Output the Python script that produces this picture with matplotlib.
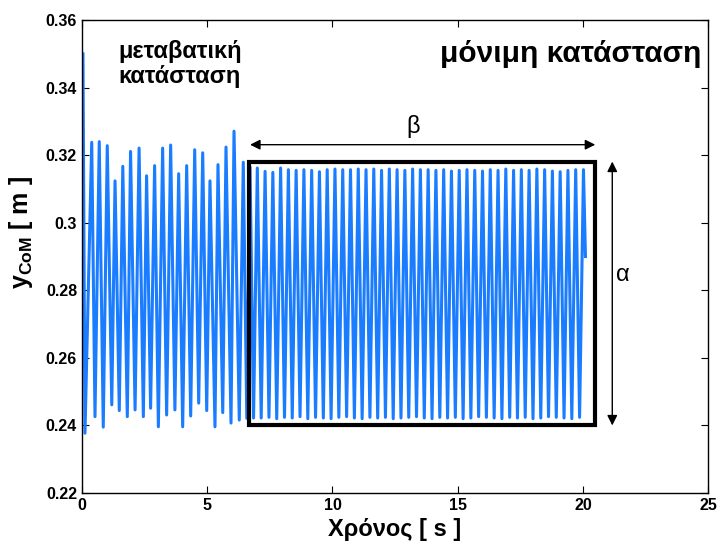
import matplotlib
matplotlib.use("Agg")
import matplotlib.pyplot as plt
from matplotlib.patches import Rectangle
from matplotlib import font_manager

plt.rcParams['font.family'] = ['Liberation Sans', 'DejaVu Sans']
names = {f.name for f in font_manager.fontManager.ttflist}
narrow = 'Liberation Sans Narrow' if 'Liberation Sans Narrow' in names else 'Liberation Sans'
plt.rcParams['mathtext.fontset'] = 'custom'
plt.rcParams['mathtext.bf'] = narrow + ':bold'
plt.rcParams['mathtext.rm'] = narrow

# Transient region: alternating extrema (time [s], y_CoM [m])
trans_t = [0.04, 0.12, 0.39, 0.52, 0.69, 0.85, 1.01, 1.19, 1.32, 1.49, 1.63, 1.81,
           1.94, 2.12, 2.28, 2.45, 2.58, 2.74, 2.90, 3.05, 3.22, 3.38, 3.54, 3.71,
           3.86, 4.02, 4.18, 4.34, 4.50, 4.66, 4.82, 4.98, 5.11, 5.31, 5.43, 5.62,
           5.75, 5.95, 6.07, 6.28, 6.44, 6.58, 6.71, 6.85]
trans_y = [0.3500, 0.2377, 0.3238, 0.2426, 0.3240, 0.2395, 0.3228, 0.2461, 0.3124, 0.2444,
           0.3167, 0.2426, 0.3211, 0.2446, 0.3221, 0.2426, 0.3139, 0.2451, 0.3169, 0.2396,
           0.3221, 0.2431, 0.3230, 0.2446, 0.3145, 0.2396, 0.3169, 0.2428, 0.3216, 0.2466,
           0.3207, 0.2444, 0.3124, 0.2396, 0.3172, 0.2438, 0.3224, 0.2407, 0.3271, 0.2416,
           0.3179, 0.2421, 0.3165, 0.2422]

# Steady state: peaks and troughs
peak_t = [7.00, 7.31, 7.62, 7.93, 8.24, 8.55, 8.86, 9.17, 9.48, 9.79, 10.10, 10.41,
          10.72, 11.03, 11.34, 11.65, 11.96, 12.27, 12.58, 12.89, 13.20, 13.51, 13.82,
          14.13, 14.44, 14.75, 15.06, 15.37, 15.68, 15.99, 16.30, 16.61, 16.92, 17.23,
          17.54, 17.85, 18.16, 18.47, 18.78, 19.09, 19.40, 19.71, 20.02]
peak_y = [0.3162, 0.3152, 0.3149, 0.3162, 0.3157, 0.3155, 0.3157, 0.3155, 0.3151, 0.3157,
          0.3159, 0.3157, 0.3157, 0.3159, 0.3157, 0.3159, 0.3155, 0.3159, 0.3157, 0.3155,
          0.3159, 0.3157, 0.3157, 0.3155, 0.3157, 0.3153, 0.3155, 0.3157, 0.3155, 0.3153,
          0.3157, 0.3155, 0.3159, 0.3155, 0.3157, 0.3155, 0.3159, 0.3157, 0.3153, 0.3151,
          0.3155, 0.3157, 0.3157]
trough_t = [7.155, 7.465, 7.775, 8.085, 8.395, 8.705, 9.015, 9.325, 9.635, 9.945,
            10.255, 10.565, 10.875, 11.185, 11.495, 11.805, 12.115, 12.425, 12.735,
            13.045, 13.355, 13.665, 13.975, 14.285, 14.595, 14.905, 15.215, 15.525,
            15.835, 16.145, 16.455, 16.765, 17.075, 17.385, 17.695, 18.005, 18.315,
            18.625, 18.935, 19.245, 19.555, 19.865]
trough_y = [0.2422, 0.2424, 0.2420, 0.2424, 0.2422, 0.2426, 0.2420, 0.2424, 0.2422, 0.2420,
            0.2424, 0.2426, 0.2422, 0.2420, 0.2424, 0.2422, 0.2424, 0.2420, 0.2422, 0.2424,
            0.2426, 0.2422, 0.2420, 0.2424, 0.2422, 0.2424, 0.2420, 0.2422, 0.2426, 0.2424,
            0.2422, 0.2420, 0.2424, 0.2422, 0.2424, 0.2420, 0.2422, 0.2426, 0.2424, 0.2422,
            0.2420, 0.2424]
end_t = [20.10]
end_y = [0.2900]

xticks = [0, 5, 10, 15, 20, 25]
yticks = [0.22, 0.24, 0.26, 0.28, 0.30, 0.32, 0.34, 0.36]
ytick_labels = ['0.22', '0.24', '0.26', '0.28', '0.3', '0.32', '0.34', '0.36']

# assemble sequence
steady = sorted(list(zip(peak_t, peak_y)) + list(zip(trough_t, trough_y)))
t_all = trans_t + [p[0] for p in steady] + end_t
y_all = trans_y + [p[1] for p in steady] + end_y

fig = plt.figure(figsize=(7.19, 5.5), dpi=100)
ax = fig.add_axes([0.114, 0.1036, 0.871, 0.86])
ax.plot(t_all, y_all, color='#1a7cff', lw=2.2, solid_joinstyle='round')

ax.set_xlim(0, 25)
ax.set_ylim(0.22, 0.36)
ax.set_xticks(xticks)
ax.set_yticks(yticks)
ax.set_yticklabels(ytick_labels)
ax.tick_params(direction='in', top=True, right=True, length=5, width=0.8,
               labelsize=11.5)
for lab in ax.get_xticklabels() + ax.get_yticklabels():
    lab.set_fontweight('bold')
for s in ax.spines.values():
    s.set_linewidth(1.0)

ax.set_xlabel('Χρόνος [ s ]', fontsize=17, fontweight='bold', labelpad=4)
ax.set_ylabel(r'y$_{\mathbf{CoM}}$ [ m ]', fontsize=18, fontweight='bold',
              family=[narrow, 'DejaVu Sans'])
ax.yaxis.set_label_coords(-0.075, 0.55)

# rectangle for steady state
ax.add_patch(Rectangle((6.67, 0.2400), 20.49 - 6.67, 0.3181 - 0.2400,
                       fill=False, edgecolor='black', lw=3, zorder=5))

# beta arrow
ax.annotate('', xy=(6.71, 0.3231), xytext=(20.49, 0.3231),
            arrowprops=dict(arrowstyle='<|-|>', color='black', lw=1.0,
                            mutation_scale=15, shrinkA=0, shrinkB=0))
ax.text(13.2, 0.3285, 'β', fontsize=17, ha='center', va='center')

# alpha arrow
ax.annotate('', xy=(21.17, 0.3181), xytext=(21.17, 0.2400),
            arrowprops=dict(arrowstyle='<|-|>', color='black', lw=1.0,
                            mutation_scale=15, shrinkA=0, shrinkB=0))
ax.text(21.3, 0.2845, 'α', fontsize=17, ha='left', va='center')

ax.text(3.91, 0.347, 'μεταβατική\nκατάσταση', fontsize=17, fontweight='bold',
        ha='center', va='center', linespacing=1.1)
ax.text(19.5, 0.3498, 'μόνιμη κατάσταση', fontsize=21.5, fontweight='bold',
        ha='center', va='center')

fig.savefig('out.png', dpi=100)
